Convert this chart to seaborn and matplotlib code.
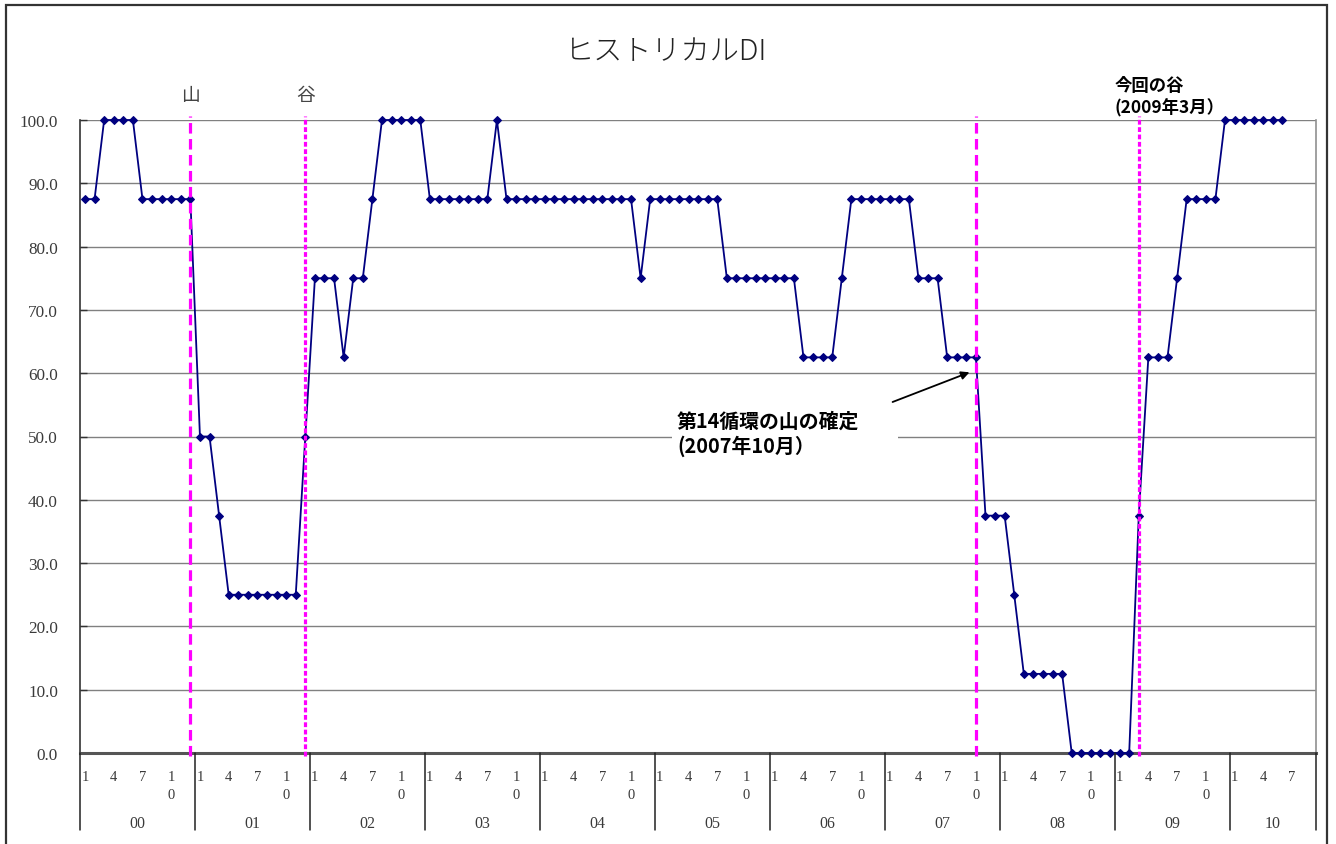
import numpy as np
import pandas as pd
import matplotlib
matplotlib.use("Agg")
import matplotlib.pyplot as plt
import seaborn as sns
from matplotlib.transforms import blended_transform_factory
from matplotlib.lines import Line2D
from matplotlib.patches import Rectangle
from matplotlib.text import Text

# ---------------- data ----------------
year_labels = ["00", "01", "02", "03", "04", "05", "06", "07", "08", "09", "10"]
month_ticks = [1, 4, 7, 10]
axis_end_month = 9  # category axis runs through 2010-09

di_2000 = [87.5, 87.5, 100, 100, 100, 100, 87.5, 87.5, 87.5, 87.5, 87.5, 87.5]
di_2001 = [50, 50, 37.5, 25, 25, 25, 25, 25, 25, 25, 25, 50]
di_2002 = [75, 75, 75, 62.5, 75, 75, 87.5, 100, 100, 100, 100, 100]
di_2003 = [87.5, 87.5, 87.5, 87.5, 87.5, 87.5, 87.5, 100, 87.5, 87.5, 87.5, 87.5]
di_2004 = [87.5, 87.5, 87.5, 87.5, 87.5, 87.5, 87.5, 87.5, 87.5, 87.5, 75, 87.5]
di_2005 = [87.5, 87.5, 87.5, 87.5, 87.5, 87.5, 87.5, 75, 75, 75, 75, 75]
di_2006 = [75, 75, 75, 62.5, 62.5, 62.5, 62.5, 75, 87.5, 87.5, 87.5, 87.5]
di_2007 = [87.5, 87.5, 87.5, 75, 75, 75, 62.5, 62.5, 62.5, 62.5, 37.5, 37.5]
di_2008 = [37.5, 25, 12.5, 12.5, 12.5, 12.5, 12.5, 0, 0, 0, 0, 0]
di_2009 = [0, 0, 37.5, 62.5, 62.5, 62.5, 75, 87.5, 87.5, 87.5, 87.5, 100]
di_2010 = [100, 100, 100, 100, 100, 100]

turning_points = ["2000-12", "2001-12", "2007-10", "2009-03"]
turning_labels = ["山", "谷", "", ""]

title_text = "ヒストリカルDI"
note_peak = "第14循環の山の確定\n(2007年10月）"
note_trough = "今回の谷\n(2009年3月）"

# ---------------- build table ----------------
values = (di_2000 + di_2001 + di_2002 + di_2003 + di_2004 + di_2005 +
          di_2006 + di_2007 + di_2008 + di_2009 + di_2010)
months = []
for k, yl in enumerate(year_labels):
    last = 12 if k < len(year_labels) - 1 else axis_end_month
    for m in range(1, last + 1):
        months.append((2000 + k, m))
n_cat = len(months)
df = pd.DataFrame({"idx": np.arange(len(values)), "di": values})
month_index = {f"{y}-{m:02d}": i for i, (y, m) in enumerate(months)}

# ---------------- figure ----------------
W, H = 1336, 845
sns.set_theme(style="white")
plt.rcParams["font.family"] = ["Noto Sans CJK JP", "DejaVu Sans"]
fig = plt.figure(figsize=(W / 100, H / 100), dpi=100)
fig.patch.set_facecolor("white")

x_left, x_right, y_top, y_bot = 80.2, 1316, 121, 754
ax = fig.add_axes([x_left / W, 1 - y_bot / H, (x_right - x_left) / W, (y_bot - y_top) / H])
ax.set_facecolor("white")

def fy(py):
    return 1 - py / H

def fx(px):
    return px / W

serif = "Liberation Serif"
lab_col = "#3a3a3a"

# grid
ax.set_ylim(0, 100)
ax.set_xlim(-0.5, n_cat - 0.5)
ax.set_yticks(np.arange(0, 101, 10))
ax.set_yticklabels([f"{v:.1f}" for v in np.arange(0, 101, 10)],
                   family=serif, fontsize=12.3, color=lab_col)
ax.tick_params(axis="y", direction="in", length=5, width=1, color="#333333", pad=16, left=True)
ax.set_xticks([])
ax.yaxis.grid(True, color="#808080", linewidth=1)
ax.set_axisbelow(True)
ax.spines["top"].set_visible(False)
ax.spines["right"].set_color("#909090")
ax.spines["right"].set_linewidth(1.2)
ax.spines["left"].set_color("#333333")
ax.spines["left"].set_linewidth(1.2)
ax.spines["bottom"].set_color("#555555")
ax.spines["bottom"].set_linewidth(2.2)

# data line
sns.lineplot(data=df, x="idx", y="di", ax=ax, color="#000080", linewidth=1.3,
             marker="D", markersize=4.5, markeredgecolor="#000080", markerfacecolor="#000080",
             clip_on=False, zorder=5)
ax.set_xlabel("")
ax.set_ylabel("")

# turning point lines
styles = [(3.3, 1.7), (1.5, 0.8), (3.3, 1.7), (1.5, 0.8)]
lwt = blended_transform_factory(ax.transData, fig.transFigure)
for tp, st, lab in zip(turning_points, styles, turning_labels):
    xi = month_index[tp]
    fig.add_artist(Line2D([xi, xi], [fy(757), fy(117)], transform=lwt, color="#FF00FF",
                          linewidth=2.3, dashes=st, clip_on=False, zorder=6))
    if lab:
        fig.add_artist(Text(xi, fy(95), lab, transform=lwt, ha="center", va="center",
                            fontsize=13.5, color="#444444",
                            family=["Noto Sans CJK JP", "DejaVu Sans"]))

# category axis labels
for i, (y, m) in enumerate(months):
    if m in month_ticks:
        s = str(m)
        fig.add_artist(Text(i, fy(778), s[0], transform=lwt, ha="center", va="center",
                            fontsize=10.5, color=lab_col, family=serif))
        if len(s) > 1:
            fig.add_artist(Text(i, fy(796), s[1], transform=lwt, ha="center", va="center",
                                fontsize=10.5, color=lab_col, family=serif))
bounds = [12 * k - 0.5 for k in range(len(year_labels))] + [n_cat - 0.5]
for k, yl in enumerate(year_labels):
    cx = (bounds[k] + bounds[k + 1]) / 2
    fig.add_artist(Text(cx, fy(824), yl, transform=lwt, ha="center", va="center",
                        fontsize=11.5, color=lab_col, family=serif))
for b in bounds:
    fig.add_artist(Line2D([b, b], [fy(754), fy(831)], transform=lwt, color="#222222",
                          linewidth=1.1, clip_on=False))

# title
fig.text(fx(666), fy(52), title_text, ha="center", va="center", fontsize=21,
         color="#222222", fontweight="light")

# trough note
fig.text(fx(1115), fy(77), note_trough, ha="left", va="top", fontsize=12.5,
         fontweight="bold", color="black", linespacing=1.3)

# peak note with white box and arrow
fig.add_artist(Rectangle((fx(672), fy(460)), fx(898) - fx(672), fy(404) - fy(460),
                         transform=fig.transFigure, facecolor="white", edgecolor="none", zorder=3))
fig.text(fx(677), fy(411), note_peak, ha="left", va="top", fontsize=14.3,
         fontweight="bold", color="black", linespacing=1.2, zorder=4)
pk = month_index["2007-10"]
ax.annotate("", xy=(pk - 0.4, values[pk] - 2.2), xycoords="data",
            xytext=(fx(890), fy(404)), textcoords="figure fraction",
            arrowprops=dict(arrowstyle="-|>", color="black", lw=1.3, mutation_scale=12),
            zorder=7, annotation_clip=False)

# outer frame
fig.add_artist(Rectangle((fx(5.5), fy(860)), fx(1327) - fx(5.5), fy(6) - fy(860),
                         transform=fig.transFigure, facecolor="none", edgecolor="#333333",
                         linewidth=1.6, clip_on=False))

fig.savefig("out.png", dpi=100, facecolor="white")
